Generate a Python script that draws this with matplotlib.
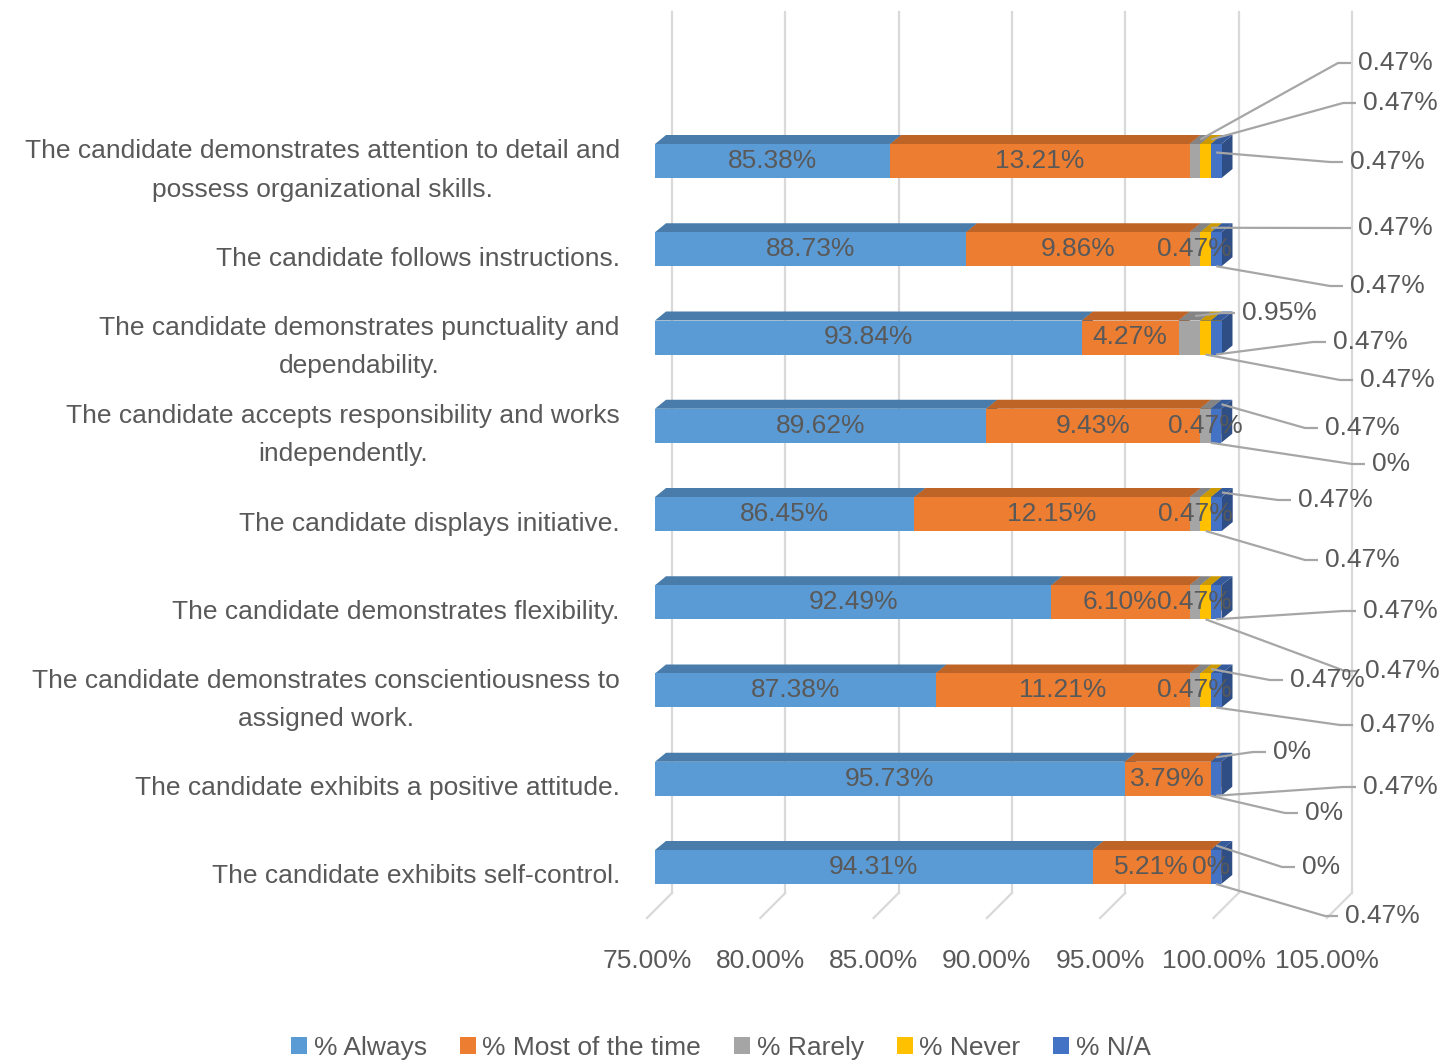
import matplotlib
matplotlib.use("Agg")
import matplotlib.pyplot as plt
import matplotlib.transforms as mtransforms
from matplotlib.patches import Polygon, Patch
from matplotlib.colors import to_rgb

plt.rcParams['font.family'] = ['Liberation Sans', 'DejaVu Sans']

# --- data (top row first) ---
categories = [
    "The candidate demonstrates attention to detail and\npossess organizational skills.",
    "The candidate follows instructions.",
    "The candidate demonstrates punctuality and\ndependability.",
    "The candidate accepts responsibility and works\nindependently.",
    "The candidate displays initiative.",
    "The candidate demonstrates flexibility.",
    "The candidate demonstrates conscientiousness to\nassigned work.",
    "The candidate exhibits a positive attitude.",
    "The candidate exhibits self-control.",
]
always = [85.38, 88.73, 93.84, 89.62, 86.45, 92.49, 87.38, 95.73, 94.31]
most = [13.21, 9.86, 4.27, 9.43, 12.15, 6.10, 11.21, 3.79, 5.21]
rarely = [0.47, 0.47, 0.95, 0.47, 0.47, 0.47, 0.47, 0.0, 0.0]
never = [0.47, 0.47, 0.47, 0.0, 0.47, 0.47, 0.47, 0.0, 0.0]
na = [0.47, 0.47, 0.47, 0.47, 0.47, 0.47, 0.47, 0.47, 0.47]
series_names = ['% Always', '% Most of the time', '% Rarely', '% Never', '% N/A']
tick_values = [75, 80, 85, 90, 95, 100, 105]

# --- layout / style ---
FRONT = ['#5B9BD5', '#ED7D31', '#A5A5A5', '#FFC000', '#4472C4']
TEXT_C = '#595959'
GRID_C = '#D9D9D9'
LEADER_C = '#A6A6A6'
FS = 19

W, H = 1455, 1064
XMIN = 75
X0_PX, PX_PCT = 655, 22.66     # pixel of 75% on bar front, pixels per percent
Y0_PX, PX_ROW = 161, 88.25     # pixel of first row centre, pixels per row
BAR_H = 34 / PX_ROW
DDX, DDY = 11 / PX_PCT, 9 / PX_ROW        # bar depth
BACK_DX = 17 / PX_PCT                     # back wall shift
FRONT_DX = -8 / PX_PCT                    # floor front edge shift
FLOOR_BACK = (893 - Y0_PX) / PX_ROW
FLOOR_FRONT = (918 - Y0_PX) / PX_ROW
WALL_TOP = (12 - Y0_PX) / PX_ROW

# rows where the "% Rarely" label sits on the bar
inside_rarely = [False, True, False, True, True, True, True, False, True]
# called-out labels: (row, series, anchor side, label left px, label centre px)
callouts = [
    (0, 2, 'top', 1358, 63), (0, 3, 'top', 1363, 103), (0, 4, 'mid', 1350, 162),
    (1, 3, 'top', 1358, 228), (1, 4, 'bot', 1350, 286),
    (2, 2, 'top', 1242, 313), (2, 4, 'bot', 1333, 342), (2, 3, 'bot', 1360, 380),
    (3, 4, 'top', 1325, 428), (3, 3, 'bot', 1372, 464),
    (4, 4, 'top', 1298, 500), (4, 3, 'bot', 1325, 560),
    (5, 4, 'bot', 1363, 611), (5, 3, 'bot', 1365, 671),
    (6, 3, 'top', 1290, 680), (6, 4, 'bot', 1360, 725),
    (7, 2, 'top', 1273, 752), (7, 4, 'bot', 1363, 787), (7, 3, 'bot', 1305, 813),
    (8, 3, 'top', 1302, 867), (8, 4, 'bot', 1345, 916),
]


def shade(c, f):
    r, g, b = to_rgb(c)
    return (r * f, g * f, b * f)


def fmt(v):
    return "0%" if v == 0 else f"{v:.2f}%"


def px_x(px):
    return XMIN + (px - X0_PX) / PX_PCT


def px_y(py):
    return (py - Y0_PX) / PX_ROW


fig = plt.figure(figsize=(W / 100, H / 100), dpi=100)
ax_left = X0_PX - PX_PCT
ax_bottom = 918
ax_top = 10
ax = fig.add_axes([ax_left / W, (H - ax_bottom) / H, 32 * PX_PCT / W, (ax_bottom - ax_top) / H])
ax.set_xlim(XMIN - 1, 106)
ax.set_ylim(px_y(ax_bottom), px_y(ax_top))
for s in ax.spines.values():
    s.set_visible(False)

# back wall gridlines + floor
for v in tick_values:
    ax.plot([v + BACK_DX, v + BACK_DX], [WALL_TOP, FLOOR_BACK], color=GRID_C, lw=1.6, zorder=0, clip_on=False)
    ax.plot([v + BACK_DX, v + FRONT_DX], [FLOOR_BACK, FLOOR_FRONT], color=GRID_C, lw=1.6, zorder=0, clip_on=False)

series = [always, most, rarely, never, na]
starts = []
z = 2
for i in range(len(categories)):
    cum = 0.0
    row_starts = []
    top, bot = i - BAR_H / 2, i + BAR_H / 2
    for k, vals in enumerate(series):
        v = vals[i]
        left = max(cum, XMIN)            # visible start (axis begins at 75%)
        r = cum + v
        row_starts.append(left)
        if r > left:
            ax.add_patch(Polygon([(r, top), (r + DDX, top - DDY), (r + DDX, bot - DDY), (r, bot)],
                                 closed=True, facecolor=shade(FRONT[k], 0.68), edgecolor='none', zorder=z))
            ax.add_patch(Polygon([(left, top), (r, top), (r + DDX, top - DDY), (left + DDX, top - DDY)],
                                 closed=True, facecolor=shade(FRONT[k], 0.8), edgecolor='none', zorder=z))
            ax.barh(i, r - left, left=left, height=BAR_H, color=FRONT[k], zorder=z + 0.5)
            z += 1
        cum = r
    starts.append(row_starts)

    # in-bar labels, centred on the visible part of each segment
    for k in (0, 1):
        v = series[k][i]
        ends = (row_starts[k] + series[k][i]) if k else always[i]
        ax.text((row_starts[k] + ends) / 2, i, fmt(v), ha='center', va='center',
                fontsize=FS, color=TEXT_C, zorder=100)
    if inside_rarely[i]:
        v = rarely[i]
        ax.text(row_starts[2] + v / 2, i, fmt(v), ha='center', va='center',
                fontsize=FS, color=TEXT_C, zorder=100)

# called-out labels with leader lines
for row, k, side, lx, ly in callouts:
    v = series[k][row]
    axx = starts[row][k] + v / 2
    if side == 'top':
        axy = row - BAR_H / 2 - DDY / 2
        axx += DDX / 2
    elif side == 'mid':
        axy = row - BAR_H / 4
    else:
        axy = row + BAR_H / 2
    tx, ty = px_x(lx), px_y(ly)
    ax.plot([axx, tx - 20 / PX_PCT, tx - 7 / PX_PCT], [axy, ty, ty], color=LEADER_C, lw=1.6,
            zorder=90, clip_on=False, solid_capstyle='butt')
    ax.text(tx, ty, fmt(v), ha='left', va='center', fontsize=FS, color=TEXT_C, zorder=100, clip_on=False)

# axes ticks
ax.set_xticks(tick_values, labels=[f"{v:.2f}%" for v in tick_values])
ax.tick_params(axis='x', length=0, pad=22, labelsize=FS, labelcolor=TEXT_C)
shift_x = mtransforms.ScaledTranslation(-8 / 100, 0, fig.dpi_scale_trans)
for lbl in ax.get_xticklabels():
    lbl.set_transform(lbl.get_transform() + shift_x)

ax.set_yticks(range(len(categories)), labels=categories)
ax.tick_params(axis='y', length=0, pad=9, labelsize=FS, labelcolor=TEXT_C)
for lbl in ax.get_yticklabels():
    lbl.set_multialignment('center')
    lbl.set_linespacing(1.75)
    dy = 0 if "\n" in lbl.get_text() else -7
    lbl.set_transform(lbl.get_transform() + mtransforms.ScaledTranslation(0, dy / 100, fig.dpi_scale_trans))

handles = [Patch(facecolor=c, edgecolor='none') for c in FRONT]
fig.legend(handles, series_names, loc='center', bbox_to_anchor=(721 / W, 1 - 1048 / H), ncol=5,
           frameon=False, fontsize=FS, labelcolor=TEXT_C, handlelength=0.6, handleheight=0.6,
           handletextpad=0.25, columnspacing=1.25, borderpad=0)

fig.savefig("out.png", dpi=100)
